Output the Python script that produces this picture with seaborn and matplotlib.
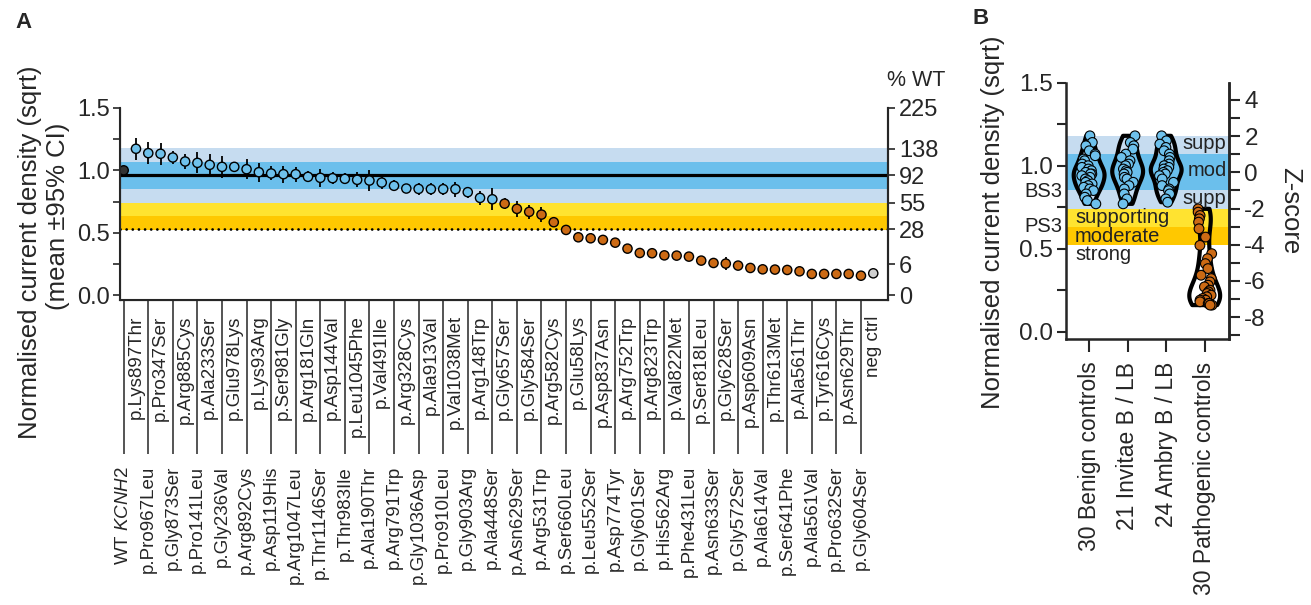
import numpy as np
import pandas as pd
import matplotlib
matplotlib.use("Agg")
import matplotlib.pyplot as plt
import seaborn as sns

# ---------------- data: panel A ----------------
variants = [
    "WT $\\mathit{KCNH2}$", "p.Lys897Thr", "p.Pro967Leu", "p.Pro347Ser", "p.Gly873Ser",
    "p.Arg885Cys", "p.Pro141Leu", "p.Ala233Ser", "p.Gly236Val", "p.Glu978Lys",
    "p.Arg892Cys", "p.Lys93Arg", "p.Asp119His", "p.Ser981Gly", "p.Arg1047Leu",
    "p.Arg181Gln", "p.Thr1146Ser", "p.Asp144Val", "p.Thr983Ile", "p.Leu1045Phe",
    "p.Ala190Thr", "p.Val491Ile", "p.Arg791Trp", "p.Arg328Cys", "p.Gly1036Asp",
    "p.Ala913Val", "p.Pro910Leu", "p.Val1038Met", "p.Gly903Arg", "p.Arg148Trp",
    "p.Ala448Ser", "p.Gly657Ser", "p.Asn629Ser", "p.Gly584Ser", "p.Arg531Trp",
    "p.Arg582Cys", "p.Ser660Leu", "p.Glu58Lys", "p.Leu552Ser", "p.Asp837Asn",
    "p.Asp774Tyr", "p.Arg752Trp", "p.Gly601Ser", "p.Arg823Trp", "p.His562Arg",
    "p.Val822Met", "p.Phe431Leu", "p.Ser818Leu", "p.Asn633Ser", "p.Gly628Ser",
    "p.Gly572Ser", "p.Asp609Asn", "p.Ala614Val", "p.Thr613Met", "p.Ser641Phe",
    "p.Ala561Thr", "p.Ala561Val", "p.Tyr616Cys", "p.Pro632Ser", "p.Asn629Thr",
    "p.Gly604Ser", "neg ctrl",
]
means = [
    1.00, 1.173, 1.138, 1.133, 1.103, 1.071, 1.060, 1.044, 1.028, 1.028,
    1.009, 0.985, 0.975, 0.969, 0.969, 0.948, 0.940, 0.937, 0.932, 0.924,
    0.918, 0.902, 0.876, 0.854, 0.851, 0.849, 0.849, 0.849, 0.825, 0.779,
    0.768, 0.733, 0.691, 0.667, 0.645, 0.584, 0.522, 0.463, 0.455, 0.442,
    0.420, 0.372, 0.337, 0.335, 0.318, 0.316, 0.308, 0.276, 0.257, 0.252,
    0.236, 0.217, 0.206, 0.204, 0.201, 0.190, 0.169, 0.169, 0.169, 0.169,
    0.155, 0.174,
]
ci95 = [
    0.0, 0.09, 0.09, 0.09, 0.05, 0.063, 0.085, 0.085, 0.087, 0.04,
    0.08, 0.077, 0.056, 0.067, 0.06, 0.043, 0.074, 0.047, 0.043, 0.06,
    0.087, 0.054, 0.043, 0.033, 0.05, 0.047, 0.047, 0.06, 0.043, 0.056,
    0.09, 0.047, 0.063, 0.054, 0.06, 0.03, 0.02, 0.033, 0.04, 0.02,
    0.015, 0.015, 0.02, 0.01, 0.01, 0.01, 0.01, 0.02, 0.01, 0.05,
    0.01, 0.01, 0.01, 0.01, 0.01, 0.01, 0.01, 0.01, 0.01, 0.01,
    0.01, 0.01,
]
groups = ["WT"] + ["normal"] * 30 + ["abnormal"] * 30 + ["neg"]
pct_wt_ticks = [0, 6, 28, 55, 92, 138, 225]

# ---------------- data: panel B ----------------
benign = [1.18, 1.14, 1.12, 1.09, 1.07, 1.06, 1.04, 1.03, 1.01, 1.00,
          0.99, 0.98, 0.97, 0.96, 0.95, 0.95, 0.94, 0.93, 0.92, 0.91,
          0.90, 0.89, 0.88, 0.87, 0.86, 0.85, 0.83, 0.81, 0.79, 0.77]
invitae = [1.18, 1.14, 1.12, 1.10, 1.07, 1.05, 1.03, 1.01, 1.00, 0.98,
           0.97, 0.96, 0.95, 0.93, 0.92, 0.90, 0.88, 0.86, 0.83, 0.80, 0.77]
ambry = [1.18, 1.15, 1.13, 1.11, 1.09, 1.07, 1.05, 1.03, 1.01, 1.00,
         0.99, 0.98, 0.97, 0.96, 0.95, 0.94, 0.92, 0.90, 0.88, 0.86,
         0.85, 0.83, 0.80, 0.78]
pathogenic = [0.74, 0.72, 0.70, 0.68, 0.66, 0.62, 0.57, 0.52, 0.47, 0.44,
              0.41, 0.38, 0.34, 0.32, 0.30, 0.28, 0.27, 0.25, 0.24, 0.23,
              0.22, 0.21, 0.20, 0.19, 0.19, 0.18, 0.17, 0.17, 0.16, 0.16]
b_categories = ["30 Benign controls", "21 Invitae B / LB", "24 Ambry B / LB",
                "30 Pathogenic controls"]
ref_mean, ref_sd = 0.96, 0.109

# ---------------- style ----------------
sns.set_style("ticks")
plt.rcParams["font.family"] = ["Liberation Sans", "DejaVu Sans"]
plt.rcParams["mathtext.fontset"] = "custom"
plt.rcParams["mathtext.rm"] = "Liberation Sans"
plt.rcParams["mathtext.it"] = "Liberation Sans:italic"
plt.rcParams["axes.unicode_minus"] = False
np.random.seed(3)

C_LBLUE = "#c6dcf0"
C_BLUE = "#6bbfec"
C_YEL = "#ffe330"
C_GOLD = "#ffc800"
C_PTBLUE = "#6ec1ec"
C_ORANGE = "#cc6a14"
palette = {"WT": "#333333", "normal": C_PTBLUE, "abnormal": C_ORANGE, "neg": "#cfcfcf"}

W, H = 1311, 605
fig = plt.figure(figsize=(W / 100, H / 100), dpi=100)


def box(l, t, r, b):
    return [l / W, 1 - b / H, (r - l) / W, (b - t) / H]


def ftext(x, y, s, **kw):
    fig.text(x / W, 1 - y / H, s, **kw)


def draw_bands(ax):
    z = lambda k: ref_mean + k * ref_sd
    ax.axhspan(z(-2), z(2), color=C_LBLUE, lw=0, zorder=0)
    ax.axhspan(z(-1), z(1), color=C_BLUE, lw=0, zorder=0)
    ax.axhspan(z(-3), z(-2), color=C_YEL, lw=0, zorder=0)
    ax.axhspan(z(-4), z(-3), color=C_GOLD, lw=0, zorder=0)


# ---------------- panel A ----------------
axA = fig.add_axes(box(120, 108, 888, 300))
dfA = pd.DataFrame({"pos": np.arange(len(variants)), "mean": means,
                    "ci": ci95, "group": groups})
draw_bands(axA)
axA.axhline(np.sqrt(0.92), color="black", lw=2.3, zorder=1)
axA.axhline(np.sqrt(0.28), color="black", lw=2.0, ls=(0, (0.01, 2.2)),
            dash_capstyle="round", zorder=1)
axA.errorbar(dfA["pos"], dfA["mean"], yerr=dfA["ci"], fmt="none",
             ecolor="black", elinewidth=1.3, capsize=0, zorder=2)
sns.scatterplot(data=dfA, x="pos", y="mean", hue="group", palette=palette,
                s=44, edgecolor="black", linewidth=1.0, legend=False,
                ax=axA, zorder=3)
axA.set_xlim(-0.3, 62.2)
axA.set_ylim(-0.04, 1.5)
axA.set_xlabel("")
axA.set_ylabel("")
axA.set_yticks([0, 0.5, 1.0, 1.5], ["0.0", "0.5", "1.0", "1.5"])
axA.set_yticks([0.25, 0.75, 1.25], minor=True)
axA.tick_params(axis="y", which="both", length=5, width=1.2, labelsize=17, pad=2)
pos = np.arange(len(variants))
axA.set_xticks(pos[0::2], [variants[i] for i in pos[0::2]])
axA.set_xticks(pos[1::2], [variants[i] for i in pos[1::2]], minor=True)
axA.tick_params(axis="x", which="major", length=111, width=1.1, pad=8.5,
                labelsize=13.5, labelrotation=90)
axA.tick_params(axis="x", which="minor", length=0, pad=11,
                labelsize=13.5, labelrotation=90)
axA.spines["top"].set_visible(False)
for s in ["left", "bottom", "right"]:
    axA.spines[s].set_linewidth(1.5)

axA2 = axA.twinx()
axA2.set_ylim(-0.04, 1.5)
axA2.set_yticks(np.sqrt(np.array(pct_wt_ticks) / 100.0), [str(p) for p in pct_wt_ticks])
axA2.tick_params(axis="y", length=5, width=1.2, labelsize=17, pad=3)
axA2.spines["top"].set_visible(False)
axA2.spines["right"].set_linewidth(1.5)
ftext(887, 80, "% WT", fontsize=15.5, ha="left", va="center")

ftext(30, 252, "Normalised current density (sqrt)", fontsize=18.5, rotation=90,
      ha="center", va="center")
ftext(58, 216, "(mean \u00b195% CI)", fontsize=18.5, rotation=90,
      ha="center", va="center")
ftext(15, 22, "A", fontsize=16, fontweight="bold", ha="left", va="center")

# ---------------- panel B ----------------
axB = fig.add_axes(box(1066, 82.7, 1229, 339.3))
dfB = pd.DataFrame({
    "group": [b_categories[0]] * len(benign) + [b_categories[1]] * len(invitae)
    + [b_categories[2]] * len(ambry) + [b_categories[3]] * len(pathogenic),
    "value": benign + invitae + ambry + pathogenic,
})
dfB["kind"] = np.where(dfB["group"] == b_categories[3], "abnormal", "normal")
draw_bands(axB)
sns.violinplot(data=dfB, x="group", y="value", order=b_categories, cut=0,
               inner=None, fill=False, color="black", linewidth=3.0,
               density_norm="width", width=0.8, bw_adjust=0.7, ax=axB, zorder=2)
sns.stripplot(data=dfB, x="group", y="value", order=b_categories, hue="kind",
              palette=palette, size=7, edgecolor="black", linewidth=0.8,
              jitter=0.2, legend=False, ax=axB, zorder=3)
axB.set_xlim(-0.6, 3.63)
axB.set_ylim(-0.046, 1.5)
axB.set_xlabel("")
axB.set_ylabel("")
axB.set_yticks([0, 0.5, 1.0, 1.5], ["0.0", "0.5", "1.0", "1.5"])
axB.set_yticks([0.25, 0.75, 1.25], minor=True)
axB.tick_params(axis="y", which="both", length=6.5, width=1.5, labelsize=17.5, pad=3)
axB.tick_params(axis="x", length=9, width=1.5, pad=7, labelsize=16.5, labelrotation=90)
axB.spines["top"].set_visible(False)
for s in ["left", "bottom", "right"]:
    axB.spines[s].set_linewidth(1.8)

axB2 = axB.twinx()
axB2.set_ylim((-0.046 - ref_mean) / ref_sd, (1.5 - ref_mean) / ref_sd)
axB2.set_yticks([-8, -6, -4, -2, 0, 2, 4])
axB2.set_yticks([-9, -7, -5, -3, -1, 1, 3], minor=True)
axB2.tick_params(axis="y", which="both", length=8, width=1.5, labelsize=17.5, pad=3)
axB2.spines["top"].set_visible(False)
axB2.spines["right"].set_linewidth(1.8)

tr = axB.get_yaxis_transform()
band_txt = dict(fontsize=14.5, color="#222222", va="center")
axB.text(0.985, 1.135, "supp", transform=tr, ha="right", **band_txt)
axB.text(0.985, 0.968, "mod", transform=tr, ha="right", **band_txt)
axB.text(0.985, 0.800, "supp", transform=tr, ha="right", **band_txt)
axB.text(0.055, 0.690, "supporting", transform=tr, ha="left", **band_txt)
axB.text(0.055, 0.576, "moderate", transform=tr, ha="left", **band_txt)
axB.text(0.055, 0.462, "strong", transform=tr, ha="left", **band_txt)
axB.text(-0.025, 0.843, "BS3", transform=tr, ha="right", clip_on=False, **band_txt)
axB.text(-0.025, 0.633, "PS3", transform=tr, ha="right", clip_on=False, **band_txt)

ftext(993, 222, "Normalised current density (sqrt)", fontsize=18.5, rotation=90,
      ha="center", va="center")
ftext(1290, 211, "Z-score", fontsize=18.5, rotation=270, ha="center", va="center")
ftext(972, 18, "B", fontsize=16, fontweight="bold", ha="left", va="center")

fig.savefig("out.png", dpi=100)
